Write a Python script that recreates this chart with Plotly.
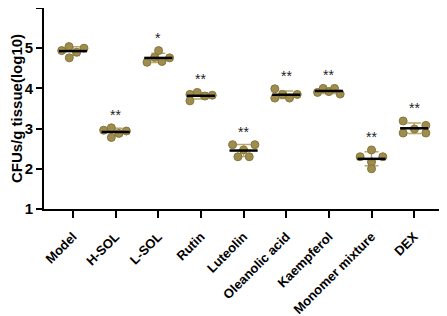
import plotly.graph_objects as go
import numpy as np

categories = ["Model", "H-SOL", "L-SOL", "Rutin", "Luteolin", "Oleanolic acid",
              "Kaempferol", "Monomer mixture", "DEX"]
values = [
    [4.94, 5.04, 4.90, 5.00, 4.76],
    [2.96, 3.02, 2.88, 2.94, 2.78],
    [4.65, 4.77, 4.94, 4.67, 4.76],
    [3.85, 3.90, 3.81, 3.83, 3.69],
    [2.60, 2.60, 2.47, 2.30, 2.30],
    [3.99, 3.85, 3.85, 3.76, 3.76],
    [3.90, 4.00, 3.92, 4.00, 3.86],
    [2.30, 2.30, 2.47, 2.17, 2.00],
    [3.19, 3.08, 2.99, 2.89, 2.89],
]
significance = ["", "**", "*", "**", "**", "**", "**", "**", "**"]
# horizontal scatter offsets of the dots (in category units)
jitter = [
    [-0.265, -0.094, 0.087, 0.258, -0.087],
    [-0.281, -0.101, 0.077, 0.251, -0.101],
    [-0.265, -0.087, 0.007, 0.087, 0.265],
    [-0.258, -0.087, 0.094, 0.265, -0.258],
    [-0.258, 0.265, 0.0, -0.133, 0.133],
    [-0.267, -0.087, 0.258, -0.267, 0.077],
    [-0.265, -0.133, 0.0, 0.133, 0.265],
    [-0.267, 0.265, 0.0, 0.0, 0.0],
    [-0.258, 0.274, 0.007, -0.258, 0.274],
]

fill = "#9f8d4d"
edge = "#85763a"
errc = "#b8a86c"
FONT = "Liberation Sans, Arial"

fig = go.Figure()

means = [float(np.mean(v)) for v in values]
sds = [float(np.std(v, ddof=1)) for v in values]

# error bars (SD)
fig.add_trace(go.Scatter(
    x=list(range(len(categories))), y=means, mode="markers",
    marker=dict(size=1, color="rgba(0,0,0,0)"),
    error_y=dict(type="data", array=sds, visible=True, color=errc,
                 thickness=1.5, width=7),
    hoverinfo="skip", showlegend=False))

# dots
xs, ys = [], []
for i, (vals, jit) in enumerate(zip(values, jitter)):
    for v, j in zip(vals, jit):
        xs.append(i + j)
        ys.append(v)
fig.add_trace(go.Scatter(
    x=xs, y=ys, mode="markers",
    marker=dict(size=8, color=fill, line=dict(color=edge, width=1)),
    showlegend=False))

# mean lines
mx, my = [], []
half = 0.33
for i, m in enumerate(means):
    mx += [i - half, i + half, None]
    my += [m, m, None]
fig.add_trace(go.Scatter(x=mx, y=my, mode="lines",
                         line=dict(color="black", width=2.5),
                         hoverinfo="skip", showlegend=False))

# significance marks
for i, (s, vals) in enumerate(zip(significance, values)):
    if s:
        top = max(max(vals), means[i] + sds[i])
        fig.add_annotation(x=i, y=top, text=s, showarrow=False,
                           yanchor="bottom", yshift=3,
                           font=dict(family=FONT, size=14, color="#222"))

# page body has an 8px default margin, so the figure is sized to fit inside
fig.update_layout(
    width=439, height=308,
    margin=dict(l=36, r=0, t=0, b=107, autoexpand=False),
    paper_bgcolor="white", plot_bgcolor="white",
    font=dict(family=FONT, color="black"),
    xaxis=dict(range=[-0.68, 8.77], tickmode="array", automargin=False,
               tickvals=list(range(len(categories))), ticktext=categories,
               tickangle=-45, showgrid=False, zeroline=False,
               showline=True, linecolor="black", linewidth=2,
               ticks="outside", ticklen=7, tickwidth=2, tickcolor="black",
               ticklabelstandoff=6,
               tickfont=dict(size=13, family=FONT, weight="bold")),
    yaxis=dict(range=[1, 6], tickvals=[1, 2, 3, 4, 5, 6], automargin=False,
               showgrid=False, zeroline=False,
               showline=True, linecolor="black", linewidth=2,
               ticks="outside", ticklen=6, tickwidth=2, tickcolor="black",
               tickfont=dict(size=15, family=FONT, weight="bold"),
               title=dict(text="CFUs/g tissue(log10)", standoff=2,
                          font=dict(size=15, family=FONT, weight="bold"))),
)

fig.write_html("out.html")
